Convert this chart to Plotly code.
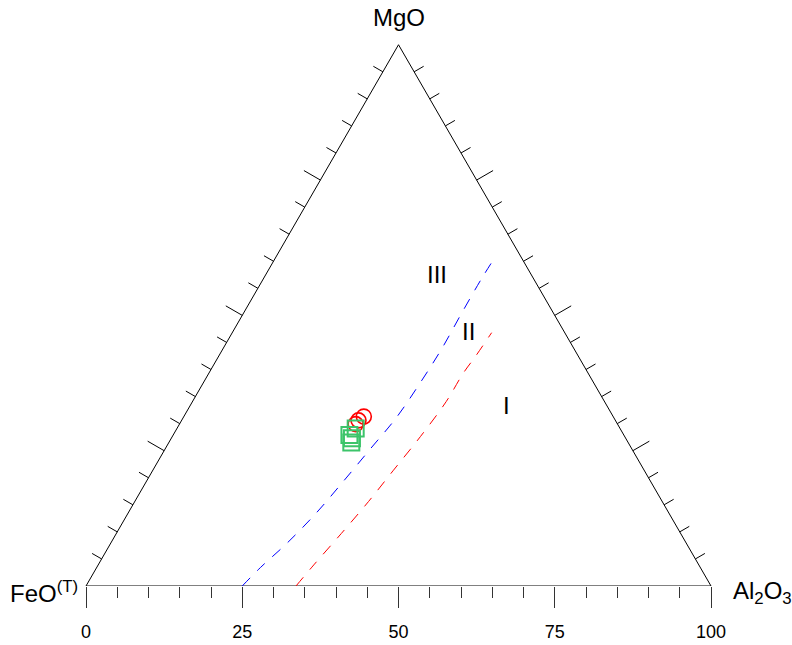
import math
import plotly.graph_objects as go

# Field boundaries (wt% MgO and Al2O3; FeO(T) makes up the rest)
boundary_III_II_mgo = [0.0, 3.4, 7.9, 13.5, 19.3, 25.2, 31.1, 37.5, 43.9, 50.4, 56.9, 61.2]
boundary_III_II_al2o3 = [25.0, 26.2, 28.2, 30.1, 31.5, 32.8, 34.1, 34.7, 35.0, 34.9, 34.9, 35.1]

boundary_II_I_mgo = [0.0, 3.9, 9.7, 15.6, 21.4, 27.6, 34.1, 39.3, 42.4, 46.8]
boundary_II_I_al2o3 = [33.6, 34.5, 36.0, 37.4, 38.5, 39.7, 40.6, 40.7, 41.1, 41.5]

# Samples (MgO, FeO(T), Al2O3)
group_a_mgo = [31.3, 30.6, 29.9]
group_a_feo = [39.9, 41.1, 41.9]
group_a_al2o3 = [28.8, 28.3, 28.2]

group_b_mgo = [29.1, 27.9, 27.3, 26.5]
group_b_feo = [42.3, 43.9, 43.8, 44.3]
group_b_al2o3 = [28.6, 28.2, 28.9, 29.2]

# Field names and where they sit (MgO, FeO, Al2O3)
field_names = ["III", "II", "I"]
field_mgo = [57.5, 47.1, 33.3]
field_feo = [15.1, 15.3, 16.0]
field_al2o3 = [27.4, 37.6, 50.7]

axis_ticks = [0, 25, 50, 75, 100]
minor_ticks = [v for v in range(5, 100, 5) if v % 25]
edge_ticks = list(range(5, 100, 5))

H = math.sqrt(3) / 2


def to_xy(mgo, feo, al):
    """Ternary composition -> cartesian position (FeO at origin, Al2O3 at x=100)."""
    xs, ys = [], []
    for m, f, a in zip(mgo, feo, al):
        t = m + f + a
        m, a = 100 * m / t, 100 * a / t
        xs.append(a + m / 2)
        ys.append(m * H)
    return xs, ys


fig = go.Figure()

# triangle outline
tx, ty = to_xy([0, 0, 100, 0], [100, 0, 0, 100], [0, 100, 0, 0])
fig.add_trace(go.Scatter(x=tx, y=ty, mode="lines", line=dict(color="black", width=1),
                         hoverinfo="skip", showlegend=False))

# ticks on the two slanted edges (pointing outward)
PX = 6.25  # pixels per data unit
seg_x, seg_y = [], []
for v in edge_ticks:
    ln = (19 if v % 25 == 0 else 11) / PX
    # left edge: FeO - MgO
    lx, ly = to_xy([v], [100 - v], [0])
    seg_x += [lx[0], lx[0] - ln * H, None]
    seg_y += [ly[0], ly[0] + ln * 0.5, None]
    # right edge: Al2O3 - MgO
    rx, ry = to_xy([v], [0], [100 - v])
    seg_x += [rx[0], rx[0] + ln * H, None]
    seg_y += [ry[0], ry[0] + ln * 0.5, None]
fig.add_trace(go.Scatter(x=seg_x, y=seg_y, mode="lines", line=dict(color="black", width=1),
                         hoverinfo="skip", showlegend=False))

# field boundaries
bx, by = to_xy(boundary_III_II_mgo,
               [100 - m - a for m, a in zip(boundary_III_II_mgo, boundary_III_II_al2o3)],
               boundary_III_II_al2o3)
fig.add_trace(go.Scatter(x=bx, y=by, mode="lines", line=dict(color="blue", width=1, dash="11px,10px", shape="spline"),
                         showlegend=False))
rx_, ry_ = to_xy(boundary_II_I_mgo,
                 [100 - m - a for m, a in zip(boundary_II_I_mgo, boundary_II_I_al2o3)],
                 boundary_II_I_al2o3)
fig.add_trace(go.Scatter(x=rx_, y=ry_, mode="lines", line=dict(color="red", width=1, dash="11px,10px", shape="spline"),
                         showlegend=False))

# samples
ax_, ay_ = to_xy(group_a_mgo, group_a_feo, group_a_al2o3)
fig.add_trace(go.Scatter(x=ax_, y=ay_, mode="markers",
                         marker=dict(symbol="circle-open", size=15, color="red", line=dict(width=1.6)),
                         showlegend=False))
gx, gy = to_xy(group_b_mgo, group_b_feo, group_b_al2o3)
fig.add_trace(go.Scatter(x=gx, y=gy, mode="markers",
                         marker=dict(symbol="square-open", size=16, color="#3cc46a", line=dict(width=2)),
                         showlegend=False))

FONT = "Arial, Liberation Sans, sans-serif"
annotations = []
fx, fy = to_xy(field_mgo, field_feo, field_al2o3)
for name, x, y in zip(field_names, fx, fy):
    annotations.append(dict(x=x, y=y, text=name, showarrow=False,
                            font=dict(family=FONT, size=24, color="black")))

annotations += [
    dict(x=50, y=100 * H, text="MgO", showarrow=False, xanchor="center", yanchor="middle",
         yshift=27, font=dict(family=FONT, size=24, color="black")),
    dict(x=0, y=0, text="FeO<sup>(T)</sup>", showarrow=False, xanchor="right", yanchor="middle",
         xshift=-6, yshift=-6, font=dict(family=FONT, size=24, color="black")),
    dict(x=100, y=0, text="Al<sub>2</sub>O<sub>3</sub>", showarrow=False, xanchor="left", yanchor="middle",
         xshift=20, yshift=-6, font=dict(family=FONT, size=24, color="black")),
]

W, Hpx = 792, 645
left_px, base_px = 86, 586
x0 = -left_px / PX
fig.update_layout(
    width=W, height=Hpx,
    margin=dict(l=0, r=0, t=0, b=Hpx - base_px),
    paper_bgcolor="white", plot_bgcolor="white",
    showlegend=False,
    annotations=annotations,
    xaxis=dict(range=[x0, x0 + W / PX], showgrid=False, zeroline=False, showline=False,
               tickvals=axis_ticks, ticktext=[str(v) for v in axis_ticks],
               ticks="outside", ticklen=21, tickwidth=1, tickcolor="#333",
               ticklabelstandoff=8,
               tickfont=dict(family=FONT, size=18, color="black"),
               minor=dict(tickvals=minor_ticks, ticks="outside", ticklen=11, tickwidth=1, tickcolor="#333"),
               fixedrange=True),
    yaxis=dict(range=[0, base_px / PX], showgrid=False, zeroline=False, showline=False,
               showticklabels=False, ticks="", fixedrange=True),
)

fig.write_html("out.html")
